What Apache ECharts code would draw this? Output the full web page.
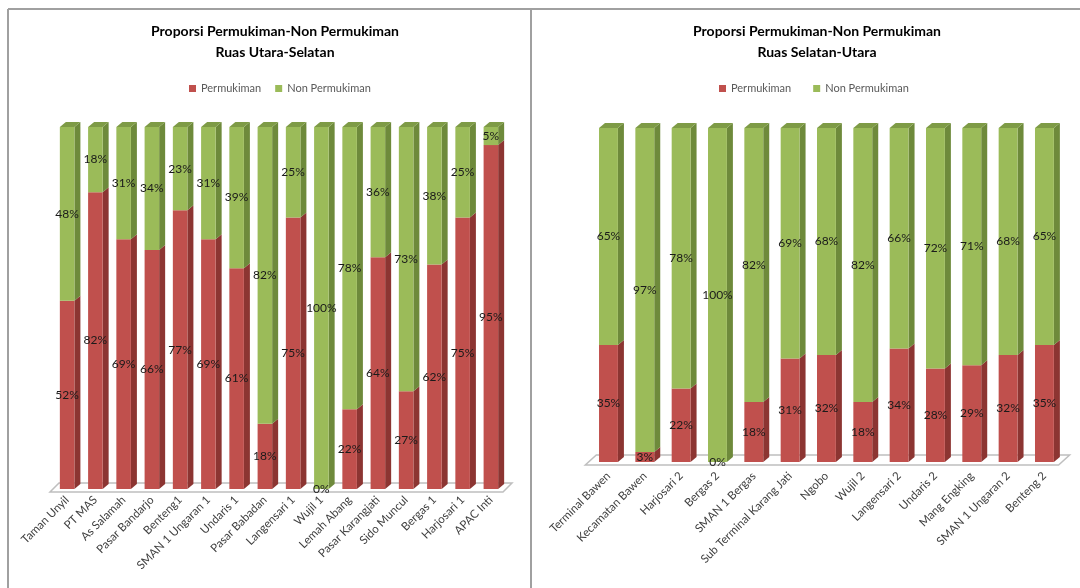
<!DOCTYPE html>
<html>
<head>
<meta charset="utf-8">
<script src="https://cdn.jsdelivr.net/npm/echarts@6/dist/echarts.min.js"></script>
<style>
html, body { margin: 0; padding: 0; background: #fff; }
#chart { width: 1080px; height: 588px; }
</style>
</head>
<body>
<div id="chart"></div>
<script>
// Series names shared by both panels
const seriesNames = ['Permukiman', 'Non Permukiman'];

// Ruas Utara-Selatan
const northCategories = ['Taman Unyil', 'PT MAS', 'As Salamah', 'Pasar Bandarjo', 'Benteng1', 'SMAN 1 Ungaran 1',
  'Undaris 1', 'Pasar Babadan', 'Langensari 1', 'Wujil 1', 'Lemah Abang', 'Pasar Karangjati',
  'Sido Muncul', 'Bergas 1', 'Harjosari 1', 'APAC Inti'];
const northPermukiman = [52, 82, 69, 66, 77, 69, 61, 18, 75, 0, 22, 64, 27, 62, 75, 95];
const northNonPermukiman = [48, 18, 31, 34, 23, 31, 39, 82, 25, 100, 78, 36, 73, 38, 25, 5];

// Ruas Selatan-Utara
const southCategories = ['Terminal Bawen', 'Kecamatan Bawen', 'Harjosari 2', 'Bergas 2', 'SMAN 1 Bergas',
  'Sub Terminal Karang Jati', 'Ngobo', 'Wujil 2', 'Langensari 2', 'Undaris 2', 'Mang Engking',
  'SMAN 1 Ungaran 2', 'Benteng 2'];
const southPermukiman = [35, 3, 22, 0, 18, 31, 32, 18, 34, 28, 29, 32, 35];
const southNonPermukiman = [65, 97, 78, 100, 82, 69, 68, 82, 66, 72, 71, 68, 65];

const FACES = {
  red: { front: '#C0504D', side: '#8C3532', top: '#A64542' },
  green: { front: '#9BBB59', side: '#6E8A3B', top: '#7E9B46' }
};
const FONT = 'Lato, "Noto Sans", sans-serif';

// Stacked segments: [categoryIndex, base, top, value]
function segments(values, bases) {
  return values.map((v, i) => {
    const b = bases ? bases[i] : 0;
    return [i, b, b + v, v];
  });
}

// Draws one stacked segment as a pseudo-3D block (front, side and optional top face)
function blockRenderer(faces, widthRatio, depth, withTop) {
  return function (params, api) {
    const i = api.value(0);
    const lo = api.coord([i, api.value(1)]);
    const hi = api.coord([i, api.value(2)]);
    const band = api.size([1, 0])[0];
    const w = band * widthRatio;
    const x0 = lo[0] - w / 2, x1 = x0 + w;
    const yb = lo[1], yt = hi[1];
    const dx = depth[0], dy = depth[1];
    const children = [];
    if (yb - yt > 0.01) {
      children.push({
        type: 'polygon',
        shape: { points: [[x1, yb], [x1 + dx, yb - dy], [x1 + dx, yt - dy], [x1, yt]] },
        style: { fill: faces.side }
      });
      children.push({
        type: 'rect',
        shape: { x: x0, y: yt, width: w, height: yb - yt },
        style: { fill: faces.front }
      });
      if (withTop) {
        children.push({
          type: 'polygon',
          shape: { points: [[x0, yt], [x0 + dx, yt - dy], [x1 + dx, yt - dy], [x1, yt]] },
          style: { fill: faces.top }
        });
      }
    }
    children.push({
      type: 'text',
      z2: 100,
      x: (x0 + x1) / 2,
      y: (yt + yb) / 2,
      style: {
        text: api.value(3) + '%',
        align: 'center',
        verticalAlign: 'middle',
        font: '12px ' + FONT,
        fill: '#1a1a1a'
      }
    });
    return { type: 'group', children };
  };
}

// Floor slab under the bars
function floorRenderer(inset, depth) {
  return function (params, api) {
    const cs = params.coordSys;
    const yf = cs.y + cs.height + 3;
    const xl = cs.x - inset[0], xr = cs.x + cs.width - inset[1];
    return {
      type: 'polygon',
      shape: { points: [[xl, yf], [xr, yf], [xr + depth[0], yf - depth[1]], [xl + depth[0], yf - depth[1]]] },
      style: { fill: '#fff', stroke: '#BFBFBF', lineWidth: 1.5 }
    };
  };
}

function panelSeries(gridIdx, perm, nonPerm, widthRatio, depth, floorInset, floorDepth) {
  return [
    {
      type: 'custom', name: 'floor' + gridIdx, xAxisIndex: gridIdx, yAxisIndex: gridIdx, z: 1,
      data: [[0, 0]], renderItem: floorRenderer(floorInset, floorDepth), silent: true
    },
    {
      type: 'custom', name: seriesNames[0], xAxisIndex: gridIdx, yAxisIndex: gridIdx, z: 2,
      itemStyle: { color: FACES.red.front },
      data: segments(perm), renderItem: blockRenderer(FACES.red, widthRatio, depth, false)
    },
    {
      type: 'custom', name: seriesNames[1], xAxisIndex: gridIdx, yAxisIndex: gridIdx, z: 2,
      itemStyle: { color: FACES.green.front },
      data: segments(nonPerm, perm), renderItem: blockRenderer(FACES.green, widthRatio, depth, true)
    }
  ];
}

function categoryAxis(gridIdx, cats, margin) {
  return {
    type: 'category', gridIndex: gridIdx, data: cats,
    axisLine: { show: false }, axisTick: { show: false }, splitLine: { show: false },
    axisLabel: { interval: 0, rotate: 45, margin: margin, fontSize: 11.5, fontFamily: FONT, color: '#404040' }
  };
}

function valueAxis(gridIdx) {
  return { type: 'value', gridIndex: gridIdx, min: 0, max: 100, show: false };
}

function titleOf(sub, center) {
  return {
    text: 'Proporsi Permukiman-Non Permukiman\n' + sub,
    left: center, top: 16, textAlign: 'center',
    textStyle: { fontSize: 14, fontWeight: 'bold', fontFamily: FONT, color: '#000', lineHeight: 21 }
  };
}

function legendOf(left, gap) {
  return {
    data: seriesNames, left: left, top: 78, itemWidth: 7, itemHeight: 7, itemGap: gap,
    icon: 'rect', selectedMode: false,
    textStyle: { fontSize: 11, fontFamily: FONT, color: '#595959' }
  };
}

const chart = echarts.init(document.getElementById('chart'), null, { renderer: 'canvas' });
chart.setOption({
  animation: false,
  backgroundColor: '#fff',
  title: [titleOf('Ruas Utara-Selatan', 270), titleOf('Ruas Selatan-Utara', 812)],
  legend: [legendOf(184, 14), legendOf(714, 22)],
  grid: [
    { left: 53, top: 127, width: 452, height: 362 },
    { left: 590.3, top: 128, width: 472.3, height: 334 }
  ],
  xAxis: [categoryAxis(0, northCategories, 9), categoryAxis(1, southCategories, 12)],
  yAxis: [valueAxis(0), valueAxis(1)],
  series: [
    ...panelSeries(0, northPermukiman, northNonPermukiman, 0.515, [6, 5], [3, 2], [9, 9]),
    ...panelSeries(1, southPermukiman, southNonPermukiman, 0.52, [6, 5], [5, 4], [11, 10])
  ],
  graphic: [
    { type: 'line', shape: { x1: 8, y1: 9, x2: 1080, y2: 9 }, style: { stroke: '#A0A0A0', lineWidth: 2 } },
    { type: 'line', shape: { x1: 8, y1: 9, x2: 8, y2: 588 }, style: { stroke: '#A0A0A0', lineWidth: 2 } },
    { type: 'line', shape: { x1: 531, y1: 9, x2: 531, y2: 588 }, style: { stroke: '#A0A0A0', lineWidth: 2 } }
  ]
});
</script>
</body>
</html>
